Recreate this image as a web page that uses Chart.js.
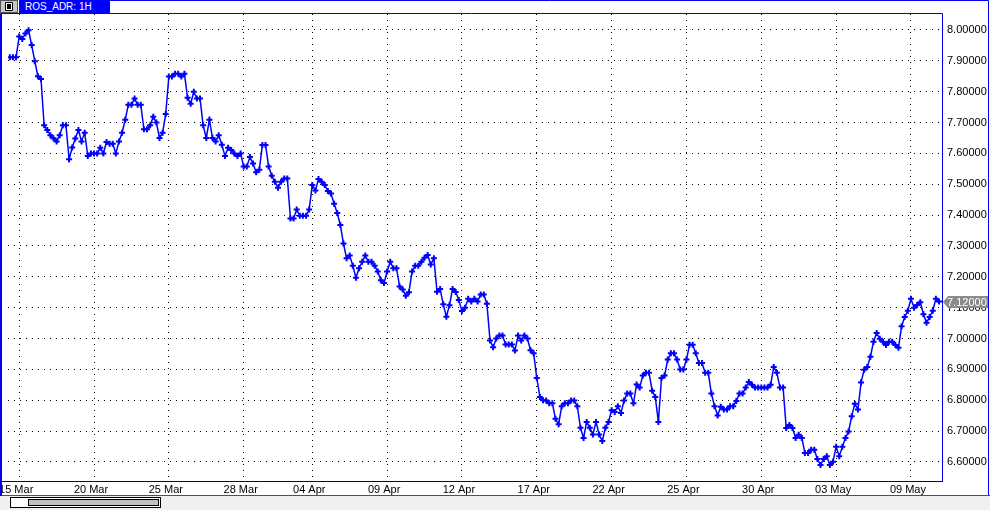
<!DOCTYPE html>
<html>
<head>
<meta charset="utf-8">
<script src="https://cdn.jsdelivr.net/npm/chart.js@4.4.1/dist/chart.umd.min.js"></script>
<style>
  html, body { margin: 0; padding: 0; background: #fff; }
  #wrap { position: relative; width: 990px; height: 510px; overflow: hidden; font-family: "Liberation Sans", Arial, sans-serif; }
  #chart { position: absolute; left: 0; top: 0; }
  #icon { position: absolute; left: 0; top: 0; width: 16px; height: 11px; background: #c8c8c8; border: 1px solid #555; }
  #icon span { position: absolute; left: 4px; top: 1px; width: 6px; height: 7px; background: #000; border: 1px solid #000; box-shadow: inset 0 0 0 1px #fff; border-radius: 1px; }
  #tab { position: absolute; left: 19px; top: 0; width: 85px; height: 13px; padding-left: 6px; background: #0000ff; color: #fff; font-size: 10px; line-height: 13px; white-space: nowrap; }
</style>
</head>
<body>
<div id="wrap">
  <canvas id="chart" width="990" height="510"></canvas>
  <div id="icon"><span></span></div>
  <div id="tab">ROS_ADR: 1H</div>
</div>
<script>
// ROS_ADR hourly closes, one value per bar
const prices = [
  7.912, 7.912, 7.912, 7.979, 7.971, 7.989, 7.999, 7.951, 7.899, 7.850,
  7.841, 7.691, 7.676, 7.659, 7.649, 7.639, 7.659, 7.691, 7.691, 7.581,
  7.619, 7.648, 7.676, 7.639, 7.667, 7.592, 7.600, 7.600, 7.600, 7.618,
  7.600, 7.637, 7.631, 7.631, 7.600, 7.639, 7.667, 7.709, 7.758, 7.758,
  7.778, 7.758, 7.758, 7.678, 7.678, 7.691, 7.719, 7.700, 7.650, 7.667,
  7.728, 7.849, 7.849, 7.858, 7.858, 7.849, 7.858, 7.780, 7.761, 7.800,
  7.778, 7.778, 7.691, 7.650, 7.709, 7.650, 7.639, 7.659, 7.628, 7.592,
  7.618, 7.611, 7.600, 7.592, 7.600, 7.558, 7.558, 7.588, 7.567, 7.539,
  7.547, 7.627, 7.627, 7.558, 7.528, 7.508, 7.489, 7.508, 7.519, 7.519,
  7.389, 7.389, 7.418, 7.398, 7.398, 7.398, 7.418, 7.498, 7.480, 7.517,
  7.508, 7.498, 7.478, 7.470, 7.437, 7.407, 7.368, 7.308, 7.260, 7.269,
  7.236, 7.197, 7.228, 7.249, 7.269, 7.249, 7.249, 7.236, 7.217, 7.189,
  7.180, 7.217, 7.249, 7.228, 7.228, 7.169, 7.159, 7.139, 7.150, 7.217,
  7.236, 7.236, 7.249, 7.262, 7.271, 7.240, 7.260, 7.152, 7.161, 7.111,
  7.071, 7.108, 7.161, 7.151, 7.125, 7.089, 7.100, 7.129, 7.120, 7.129,
  7.120, 7.143, 7.143, 7.113, 6.994, 6.972, 7.000, 7.010, 7.010, 6.981,
  6.981, 6.981, 6.961, 7.010, 6.994, 7.010, 7.000, 6.962, 6.952, 6.872,
  6.811, 6.800, 6.799, 6.790, 6.790, 6.740, 6.722, 6.781, 6.790, 6.790,
  6.799, 6.799, 6.781, 6.711, 6.678, 6.730, 6.711, 6.689, 6.730, 6.689,
  6.668, 6.711, 6.730, 6.768, 6.762, 6.781, 6.759, 6.799, 6.822, 6.822,
  6.790, 6.851, 6.841, 6.880, 6.889, 6.889, 6.831, 6.811, 6.730, 6.872,
  6.880, 6.932, 6.952, 6.952, 6.932, 6.900, 6.900, 6.932, 6.980, 6.980,
  6.952, 6.921, 6.921, 6.889, 6.889, 6.822, 6.781, 6.751, 6.779, 6.770,
  6.770, 6.781, 6.781, 6.798, 6.822, 6.822, 6.841, 6.859, 6.850, 6.841,
  6.841, 6.841, 6.841, 6.841, 6.850, 6.908, 6.889, 6.841, 6.841, 6.710,
  6.720, 6.710, 6.678, 6.688, 6.678, 6.629, 6.629, 6.640, 6.640, 6.610,
  6.590, 6.610, 6.619, 6.590, 6.601, 6.649, 6.619, 6.649, 6.678, 6.699,
  6.748, 6.789, 6.770, 6.858, 6.899, 6.908, 6.941, 6.990, 7.018, 6.999,
  6.990, 6.979, 6.990, 6.990, 6.979, 6.970, 7.040, 7.070, 7.090, 7.129,
  7.100, 7.109, 7.118, 7.079, 7.051, 7.070, 7.090, 7.129, 7.120
];

// date labels and the bar they sit on
const dateLabels = ['15 Mar', '20 Mar', '25 Mar', '28 Mar', '04 Apr', '09 Apr', '12 Apr',
                    '17 Apr', '22 Apr', '25 Apr', '30 Apr', '03 May', '09 May'];
const dateBars = [3, 27, 51, 75, 97, 121, 145, 169, 193, 217, 241, 265, 289];

const priceTicks = [6.6, 6.7, 6.8, 6.9, 7.0, 7.1, 7.2, 7.3, 7.4, 7.5, 7.6, 7.7, 7.8, 7.9, 8.0];

Chart.defaults.font.family = '"Liberation Sans", Arial, sans-serif';
Chart.defaults.font.size = 11;
Chart.defaults.color = '#000';

// frame, scroll bar and last price marker
const framePlugin = {
  id: 'frame',
  afterDraw(chart) {
    const ctx = chart.ctx;
    const a = chart.chartArea;
    ctx.save();
    // bottom strip
    ctx.fillStyle = '#f0f0f0';
    ctx.fillRect(0, 496, 990, 14);
    ctx.strokeStyle = '#2a55a0';
    ctx.lineWidth = 1;
    ctx.beginPath(); ctx.moveTo(0, 495.5); ctx.lineTo(990, 495.5); ctx.stroke();
    // scroll box
    ctx.fillStyle = '#fff';
    ctx.fillRect(10, 497, 151, 10);
    ctx.strokeStyle = '#000';
    ctx.strokeRect(10.5, 497.5, 150, 10);
    ctx.fillStyle = '#c0c0c0';
    ctx.fillRect(28, 499, 131, 6);
    ctx.strokeRect(28.5, 499.5, 130, 6);
    // plot frame
    ctx.strokeStyle = '#0000ee';
    ctx.beginPath();
    ctx.moveTo(0.5, 496); ctx.lineTo(0.5, 13.5); ctx.lineTo(a.right + 0.5, 13.5); ctx.lineTo(a.right + 0.5, 481.5);
    ctx.stroke();
    ctx.fillStyle = '#0000ee';
    ctx.fillRect(0, 14, 2, 482);
    ctx.strokeStyle = '#000080';
    ctx.beginPath(); ctx.moveTo(0, 481.5); ctx.lineTo(a.right + 1, 481.5); ctx.stroke();
    // outer window edge
    ctx.strokeStyle = '#0000ee';
    ctx.beginPath(); ctx.moveTo(110, 0.5); ctx.lineTo(988.5, 0.5); ctx.lineTo(988.5, 495); ctx.stroke();
    // last price tag
    const last = prices[prices.length - 1];
    const y = Math.round(chart.scales.y.getPixelForValue(last));
    ctx.fillStyle = '#8a8a8a';
    ctx.beginPath();
    ctx.moveTo(a.right + 1, y);
    ctx.lineTo(a.right + 6, y - 6);
    ctx.lineTo(988, y - 6);
    ctx.lineTo(988, y + 6);
    ctx.lineTo(a.right + 6, y + 6);
    ctx.closePath();
    ctx.fill();
    ctx.fillStyle = '#fff';
    ctx.font = '11px "Liberation Sans", Arial, sans-serif';
    ctx.textBaseline = 'middle';
    ctx.fillText(last.toFixed(5), a.right + 5, y + 0.5);
    ctx.restore();
  }
};

new Chart(document.getElementById('chart'), {
  type: 'line',
  data: {
    datasets: [{
      data: prices.map((v, i) => ({ x: i, y: v })),
      borderColor: '#0000ff',
      borderWidth: 1.5,
      pointStyle: 'cross',
      pointRadius: 3,
      pointBorderWidth: 2,
      pointBorderColor: '#0000ff',
      pointBackgroundColor: '#0000ff',
      tension: 0
    }]
  },
  options: {
    responsive: false,
    animation: false,
    layout: { padding: { left: 1, top: 14, right: 0, bottom: 0 } },
    plugins: { legend: { display: false }, tooltip: { enabled: false } },
    scales: {
      x: {
        type: 'linear',
        min: -0.597,
        max: 298.96,
        afterBuildTicks: s => { s.ticks = dateBars.map(v => ({ value: v })); },
        afterFit: s => { s.height = 29; },
        grid: { color: '#000', drawTicks: false },
        border: { display: false, dash: [1, 5] },
        ticks: {
          autoSkip: false, maxRotation: 0, padding: 2, labelOffset: -3,
          callback: v => dateLabels[dateBars.indexOf(v)]
        }
      },
      y: {
        position: 'right',
        min: 6.5384,
        max: 8.0518,
        afterBuildTicks: s => { s.ticks = priceTicks.map(v => ({ value: v })); },
        afterFit: s => { s.width = 48; },
        grid: { color: '#000', drawTicks: false },
        border: { display: false, dash: [1, 5] },
        ticks: { padding: 5, callback: v => v.toFixed(5) }
      }
    }
  },
  plugins: [framePlugin]
});
</script>
</body>
</html>
